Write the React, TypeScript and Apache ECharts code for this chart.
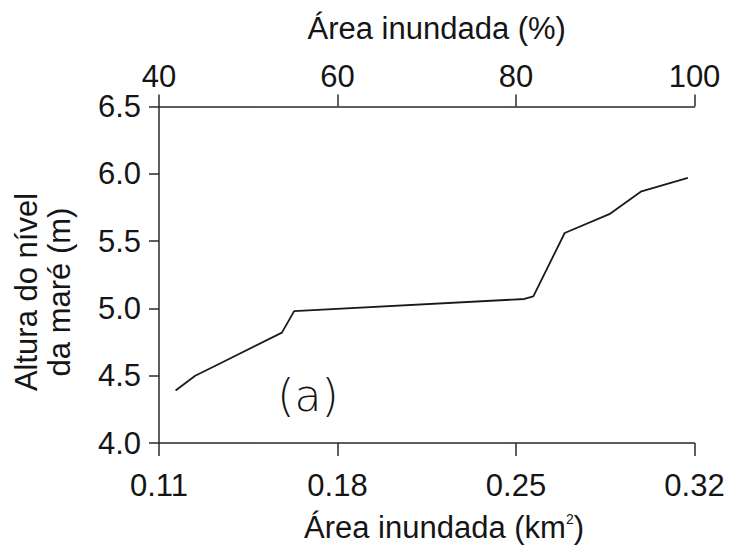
import React, { useEffect, useRef } from "react";
import * as echarts from "echarts";

// Inundated area (km²) against tide height (m)
const areaKm2 = [0.1165, 0.1242, 0.1349, 0.1582, 0.163, 0.2533, 0.2568, 0.2691, 0.2866, 0.2992, 0.3174];
const tideHeight = [4.39, 4.5, 4.6, 4.82, 4.98, 5.07, 5.09, 5.56, 5.7, 5.87, 5.97];

// Tick labels
const kmTicks = [0.11, 0.18, 0.25, 0.32];
const pctTicks = [40, 60, 80, 100];
const heightTicks = [4.0, 4.5, 5.0, 5.5, 6.0, 6.5];

const FONT = '"Liberation Sans", Arial, sans-serif';
const INK = "#151515";
const axisStroke = { color: "#2a2a2a", width: 1.5 };

export default function App() {
  const ref = useRef<HTMLDivElement | null>(null);

  useEffect(() => {
    if (!ref.current) return;
    const chart = echarts.init(ref.current, null, { renderer: "svg" });

    const labelBase = { fontSize: 31, fontFamily: FONT, color: INK };

    chart.setOption({
      animation: false,
      backgroundColor: "#ffffff",
      grid: { left: 159, right: 47.5, top: 106.5, bottom: 102, containLabel: false },
      xAxis: [
        {
          type: "value",
          position: "bottom",
          min: kmTicks[0],
          max: kmTicks[kmTicks.length - 1],
          splitLine: { show: false },
          axisLine: { show: true, onZero: false, lineStyle: axisStroke },
          axisTick: { show: true, customValues: kmTicks, length: 13, lineStyle: axisStroke },
          axisLabel: {
            ...labelBase,
            customValues: kmTicks,
            margin: 27,
            formatter: (v: number) => v.toFixed(2),
          },
        },
        {
          type: "value",
          position: "top",
          min: pctTicks[0],
          max: pctTicks[pctTicks.length - 1],
          interval: 20,
          splitLine: { show: false },
          axisLine: { show: true, onZero: false, lineStyle: axisStroke },
          axisTick: { show: true, length: 12, lineStyle: axisStroke },
          axisLabel: { ...labelBase, margin: 15, formatter: (v: number) => String(v) },
        },
      ],
      yAxis: {
        type: "value",
        min: heightTicks[0],
        max: heightTicks[heightTicks.length - 1],
        interval: 0.5,
        splitLine: { show: false },
        axisLine: { show: true, onZero: false, lineStyle: axisStroke },
        axisTick: { show: true, length: 10, lineStyle: axisStroke },
        axisLabel: {
          ...labelBase,
          margin: 18,
          padding: [6, 0, 0, 0],
          formatter: (v: number) => v.toFixed(1),
        },
      },
      series: [
        {
          type: "line",
          xAxisIndex: 0,
          yAxisIndex: 0,
          symbol: "none",
          lineStyle: { color: "#1a1a1a", width: 1.8 },
          data: areaKm2.map((x, i) => [x, tideHeight[i]]),
        },
      ],
      graphic: [
        {
          type: "text",
          x: 436.7,
          y: 28,
          style: {
            text: "Área inundada (%)",
            fontSize: 31,
            fontFamily: FONT,
            fill: INK,
            align: "center",
            verticalAlign: "middle",
          },
        },
        {
          type: "text",
          x: 444,
          y: 527,
          style: {
            text: "{n|Área inundada (km}{s|2}{n|)}",
            fill: INK,
            align: "center",
            verticalAlign: "middle",
            rich: {
              n: { fontSize: 31, fontFamily: FONT, fill: INK },
              s: { fontSize: 14, fontFamily: FONT, fill: INK, verticalAlign: "top" },
            },
          },
        },
        {
          type: "text",
          x: 42.5,
          y: 292,
          rotation: Math.PI / 2,
          style: {
            text: "Altura do nível\nda maré (m)",
            fontSize: 31,
            lineHeight: 33,
            fontFamily: FONT,
            fill: INK,
            align: "center",
            verticalAlign: "middle",
          },
        },
        {
          type: "text",
          x: 308,
          y: 395,
          style: {
            text: "(a)",
            fontSize: 44,
            fontWeight: 300,
            fontFamily: '"DejaVu Sans", sans-serif',
            fill: INK,
            align: "center",
            verticalAlign: "middle",
          },
        },
      ],
    });

    return () => chart.dispose();
  }, []);

  return (
    <div
      ref={ref}
      style={{ position: "absolute", left: 0, top: 0, width: 742, height: 545, background: "#fff" }}
    />
  );
}
